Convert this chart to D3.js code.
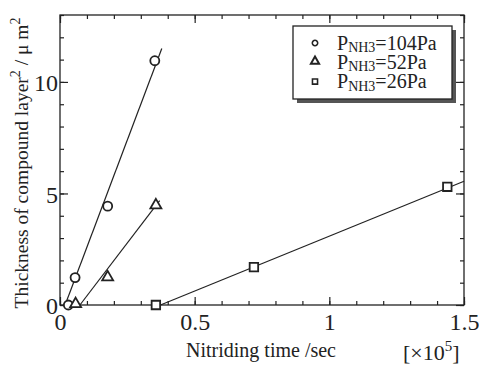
<!DOCTYPE html>
<head>
  <meta charset="utf-8">
  <script src="https://d3js.org/d3.v7.min.js"></script>
  <style>
    body { margin: 0; background: #fff; }
    .frame { fill: none; stroke: #222; stroke-width: 1.3px; }
    .fit { fill: none; stroke: #222; stroke-width: 1.2px; }
    .mark { fill: #fff; stroke: #222; stroke-width: 1.8px; }
    .axis path { display: none; }
    .axis line { stroke: #222; stroke-width: 1.2px; }
  </style>
</head>

<body>
  <script>
    // measured points, time in 1e5 sec, thickness^2 in um^2
    var series = ["104Pa", "52Pa", "26Pa"];
    var time104 = [0.031, 0.056, 0.177, 0.352];
    var thick104 = [0, 1.23, 4.43, 10.95];
    var time52 = [0.058, 0.177, 0.356];
    var thick52 = [0, 1.2, 4.43];
    var time26 = [0.356, 0.72, 1.438];
    var thick26 = [0, 1.7, 5.3];
    // fitted straight lines (start / end)
    var fitTime = [[0.019, 0.378], [0.074, 0.37], [0.373, 1.5]];
    var fitThick = [[0, 11.5], [0, 4.68], [0, 5.55]];

    var xMajor = [0, 0.5, 1, 1.5];
    var yMajor = [0, 5, 10];

    var mLeft = 60, mRight = 464, mTop = 15, mBottom = 305;

    var svg = d3.select("body").append("svg")
      .attr("width", 479)
      .attr("height", 367);

    var x = d3.scaleLinear().domain([0, 1.5]).range([mLeft, mRight]);
    var y = d3.scaleLinear().domain([0, 13]).range([mBottom, mTop]);

    var xMinor = d3.range(0, 1.501, 0.1);
    var yMinor = d3.range(0, 13.01, 1);

    function ticks(axis, tr, vals, size, labels) {
      var g = svg.append("g").attr("class", "axis").attr("transform", tr)
        .call(axis.tickValues(vals).tickSizeInner(size).tickSizeOuter(0)
          .tickFormat(labels ? d3.format("") : ""));
      g.attr("font-family", null);
      return g;
    }

    // bottom
    ticks(d3.axisBottom(x), "translate(0," + mBottom + ")", xMinor, -4, false);
    var xb = ticks(d3.axisBottom(x), "translate(0," + mBottom + ")", xMajor, -8, true);
    xb.selectAll("text").attr("y", 8).attr("dy", "0.71em").style("font-size", "24px");
    // top
    ticks(d3.axisTop(x), "translate(0," + mTop + ")", xMinor, -4, false);
    ticks(d3.axisTop(x), "translate(0," + mTop + ")", xMajor, -8, false);
    // left
    ticks(d3.axisLeft(y), "translate(" + mLeft + ",0)", yMinor, -4, false);
    var yl = ticks(d3.axisLeft(y), "translate(" + mLeft + ",0)", yMajor, -8, true);
    yl.selectAll("text").attr("x", -2).attr("dy", "0.36em").style("font-size", "24px");
    // right
    ticks(d3.axisRight(y), "translate(" + mRight + ",0)", yMinor, -4, false);
    ticks(d3.axisRight(y), "translate(" + mRight + ",0)", yMajor, -8, false);

    svg.append("rect").attr("class", "frame")
      .attr("x", mLeft).attr("y", mTop)
      .attr("width", mRight - mLeft).attr("height", mBottom - mTop);

    // fit lines
    var line = d3.line().x(function(d) { return x(d[0]); }).y(function(d) { return y(d[1]); });
    fitTime.forEach(function(t, i) {
      svg.append("path").attr("class", "fit")
        .attr("d", line(d3.zip(t, fitThick[i])));
    });

    // markers
    var circ = d3.symbol().type(d3.symbolCircle).size(64);
    var tri = d3.symbol().type(d3.symbolTriangle).size(52);
    var sq = d3.symbol().type(d3.symbolSquare).size(72);

    function marks(ts, vs, sym, dy) {
      svg.append("g").selectAll("path").data(d3.zip(ts, vs)).enter()
        .append("path")
        .attr("class", "mark")
        .attr("d", sym)
        .attr("transform", function(d) {
          return "translate(" + x(d[0]) + "," + (y(d[1]) + dy) + ")";
        });
    }
    marks(time104, thick104, circ, 0);
    marks(time52, thick52, tri, -1);
    marks(time26, thick26, sq, 0);

    // legend
    var lg = svg.append("g");
    lg.append("rect").attr("x", 297).attr("y", 30).attr("width", 159).attr("height", 73)
      .attr("fill", "#555");
    lg.append("rect").attr("x", 293).attr("y", 26).attr("width", 159).attr("height", 73)
      .attr("fill", "#fff").attr("stroke", "#222").attr("stroke-width", 1.3);
    var syms = [circ, tri, sq];
    var symScale = [0.6, 0.75, 0.6];
    series.forEach(function(s, i) {
      var cy = 43 + i * 19.3;
      lg.append("path").attr("class", "mark")
        .attr("d", syms[i])
        .attr("transform", "translate(315," + (cy + (i == 1 ? -1 : 0)) + ") scale(" + symScale[i] + ")")
        .style("stroke-width", 2.6);
      var t = lg.append("text").attr("x", 337).attr("y", cy + 6.5).style("font-size", "20px");
      t.append("tspan").text("P");
      t.append("tspan").text("NH3").style("font-size", "14px").attr("dy", 2.5);
      t.append("tspan").text("=" + s).attr("dy", -2.5);
    });

    // axis titles
    svg.append("text").attr("x", 261).attr("y", 357)
      .attr("text-anchor", "middle").style("font-size", "20px")
      .text("Nitriding time /sec");
    var ex = svg.append("text").attr("x", 403).attr("y", 360).style("font-size", "22px");
    ex.append("tspan").text("[\u00d710");
    ex.append("tspan").text("5").style("font-size", "15px").attr("dy", -9);
    ex.append("tspan").text("]").attr("dy", 9);

    var yt = svg.append("text")
      .attr("transform", "translate(28,163) rotate(-90)")
      .attr("text-anchor", "middle").style("font-size", "19.5px");
    yt.append("tspan").text("Thickness of compound layer");
    yt.append("tspan").text("2").style("font-size", "14px").attr("dy", -8);
    yt.append("tspan").text(" / \u03bc m").attr("dy", 8);
    yt.append("tspan").text("2").style("font-size", "14px").attr("dy", -8);

    svg.selectAll("text")
      .style("font-family", "'Liberation Serif'")
      .style("fill", "#222");
  </script>
</body>
